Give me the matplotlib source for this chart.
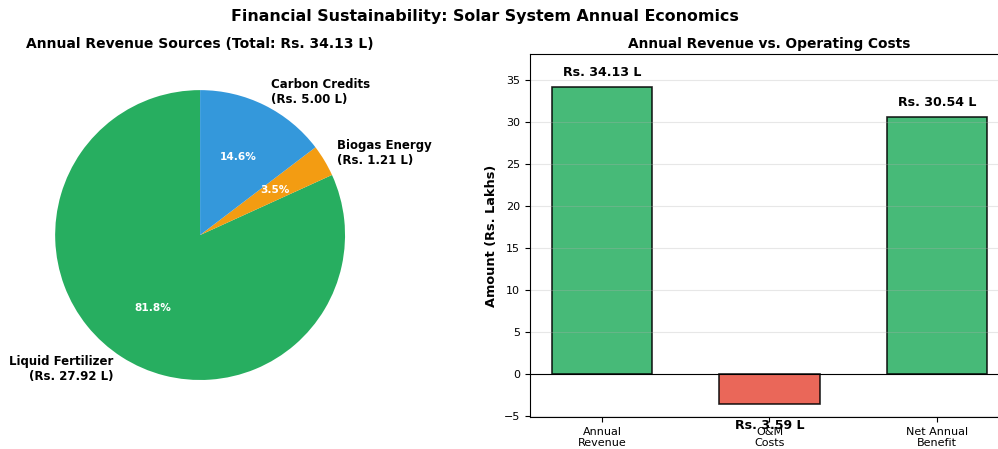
import numpy as np
import matplotlib.pyplot as plt

# revenue sources (Rs. Lakhs)
sources = ['Liquid Fertilizer', 'Biogas Energy', 'Carbon Credits']
source_values = [27.92, 1.21, 5.00]
source_colors = ['#27ae60', '#f39c12', '#3498db']

# revenue vs. costs
bar_labels = ['Annual\nRevenue', 'O&M\nCosts', 'Net Annual\nBenefit']
bar_values = [34.13, -3.59, 30.54]
bar_colors = ['#27ae60', '#e74c3c', '#27ae60']

total = sum(source_values)

fig, (ax1, ax2) = plt.subplots(1, 2, figsize=(9.98, 4.49), dpi=100)
fig.suptitle('Financial Sustainability: Solar System Annual Economics',
             fontsize=11.4, fontweight='bold', x=0.4855, y=0.98)

pie_labels = ['{}\n(Rs. {:.2f} L)'.format(s, v) for s, v in zip(sources, source_values)]
wedges, texts, autotexts = ax1.pie(source_values, labels=pie_labels, colors=source_colors,
                                   autopct='%1.1f%%', startangle=90,
                                   textprops={'fontsize': 8.5, 'fontweight': 'bold'})
for t in autotexts:
    t.set_color('white')
    t.set_fontsize(7.6)
ax1.set_title('Annual Revenue Sources (Total: Rs. {:.2f} L)'.format(total),
              fontsize=10, fontweight='bold', pad=4)

x = np.arange(len(bar_labels))
bars = ax2.bar(x, bar_values, width=0.6, color=bar_colors, alpha=0.85,
               edgecolor='black', linewidth=1.2)
ax2.axhline(0, color='black', linewidth=0.8)
ax2.set_xticks(x)
ax2.set_xticklabels(bar_labels, fontsize=8)
ax2.tick_params(axis='y', labelsize=8)
ax2.set_ylabel('Amount (Rs. Lakhs)', fontsize=9.3, fontweight='bold')
ax2.set_title('Annual Revenue vs. Operating Costs', fontsize=9.9, fontweight='bold', pad=4)
ax2.grid(axis='y', alpha=0.3)
ax2.set_ylim(-5.12, 38.1)

for bar, val in zip(bars, bar_values):
    if val >= 0:
        ax2.text(bar.get_x() + bar.get_width() / 2, val + 1, 'Rs. {:.2f} L'.format(abs(val)),
                 ha='center', va='bottom', fontsize=9.1, fontweight='bold')
    else:
        ax2.text(bar.get_x() + bar.get_width() / 2, val - 1.8, 'Rs. {:.2f} L'.format(abs(val)),
                 ha='center', va='top', fontsize=9.1, fontweight='bold')

ax1.set_position([0.0, 0.073, 0.401, 0.807])
ax2.set_position([0.531, 0.071, 0.48, 0.809])
fig.savefig('out.png', dpi=100)
